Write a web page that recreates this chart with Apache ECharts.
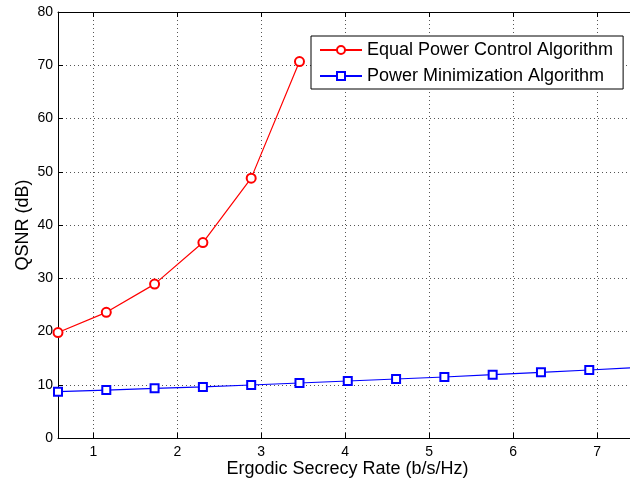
<!DOCTYPE html>
<html>
<head>
<meta charset="utf-8">
<script src="https://cdn.jsdelivr.net/npm/echarts@6/dist/echarts.min.js"></script>
<style>
  html, body { margin: 0; padding: 0; background: #fff; }
  #chart { width: 630px; height: 481px; }
</style>
</head>
<body>
<div id="chart"></div>
<script>
// Ergodic secrecy rate samples (b/s/Hz)
const rateEqual = [0.58, 1.155, 1.73, 2.305, 2.88, 3.455];
const rateMin = [0.58, 1.155, 1.73, 2.305, 2.88, 3.455, 4.03, 4.605, 5.18, 5.755, 6.33, 6.905, 7.48];
// Required QSNR (dB)
const qsnrEqual = [19.8, 23.6, 28.9, 36.7, 48.8, 70.7];
const qsnrMin = [8.7, 9.0, 9.33, 9.6, 9.95, 10.33, 10.7, 11.08, 11.46, 11.9, 12.33, 12.77, 13.25];
// Axis tick values
const xTicks = [1, 2, 3, 4, 5, 6, 7];
const seriesNames = ['Equal Power Control Algorithm', 'Power Minimization Algorithm'];

const FONT = "'Liberation Sans', Arial, Helvetica, sans-serif";
const pair = (xs, ys) => xs.map((x, i) => [x, ys[i]]);

const gridLine = { show: true, lineStyle: { color: '#555', width: 1, type: [1, 3] } };
const blackLine = { show: true, onZero: false, lineStyle: { color: '#000', width: 1 } };

const chart = echarts.init(document.getElementById('chart'), null, { renderer: 'canvas' });
chart.setOption({
  animation: false,
  backgroundColor: '#fff',
  grid: { left: 58, top: 12, bottom: 43, right: 0, show: false, containLabel: false, outerBoundsMode: 'none' },
  legend: {
    orient: 'vertical',
    left: 311, top: 36,
    padding: [5, 10, 4, 8],
    itemGap: 8,
    itemWidth: 42, itemHeight: 10,
    backgroundColor: '#fff',
    borderColor: '#000', borderWidth: 1,
    textStyle: { fontFamily: FONT, fontSize: 18, color: '#000' },
    data: seriesNames
  },
  xAxis: [{
    type: 'value', min: 0.58, max: 7.39,
    name: 'Ergodic Secrecy Rate (b/s/Hz)', nameLocation: 'middle', nameGap: 22, nameMoveOverlap: false,
    nameTextStyle: { fontFamily: FONT, fontSize: 18, color: '#000', padding: [0, 0, 0, 7] },
    axisLine: blackLine,
    axisTick: { show: true, inside: true, length: 5, customValues: xTicks, lineStyle: { color: '#000' } },
    axisLabel: { customValues: xTicks, fontFamily: FONT, fontSize: 14, color: '#000', margin: 7 },
    splitLine: gridLine
  }, {
    type: 'value', min: 0.58, max: 7.39, position: 'top',
    axisLine: blackLine,
    axisTick: { show: true, inside: true, length: 5, customValues: xTicks, lineStyle: { color: '#000' } },
    axisLabel: { show: false },
    splitLine: { show: false }
  }],
  yAxis: {
    type: 'value', min: 0, max: 80, interval: 10,
    name: 'QSNR (dB)', nameLocation: 'middle', nameGap: 26, nameMoveOverlap: false,
    nameTextStyle: { fontFamily: FONT, fontSize: 18, color: '#000' },
    axisLine: blackLine,
    axisTick: { show: true, inside: true, length: 5, lineStyle: { color: '#000' } },
    axisLabel: { fontFamily: FONT, fontSize: 14, color: '#000', margin: 5 },
    splitLine: gridLine
  },
  series: [{
    name: seriesNames[0], type: 'line',
    data: pair(rateEqual, qsnrEqual),
    symbol: 'emptyCircle', symbolSize: 9,
    lineStyle: { color: '#ff0000', width: 1.2 },
    itemStyle: { color: '#ff0000', borderWidth: 1.2 },
    clip: true, z: 3
  }, {
    name: seriesNames[1], type: 'line',
    data: pair(rateMin, qsnrMin),
    symbol: 'emptyRect', symbolSize: 8,
    lineStyle: { color: '#0000ff', width: 1.2 },
    itemStyle: { color: '#0000ff', borderWidth: 1.2 },
    clip: true, z: 3
  }]
});
</script>
</body>
</html>
